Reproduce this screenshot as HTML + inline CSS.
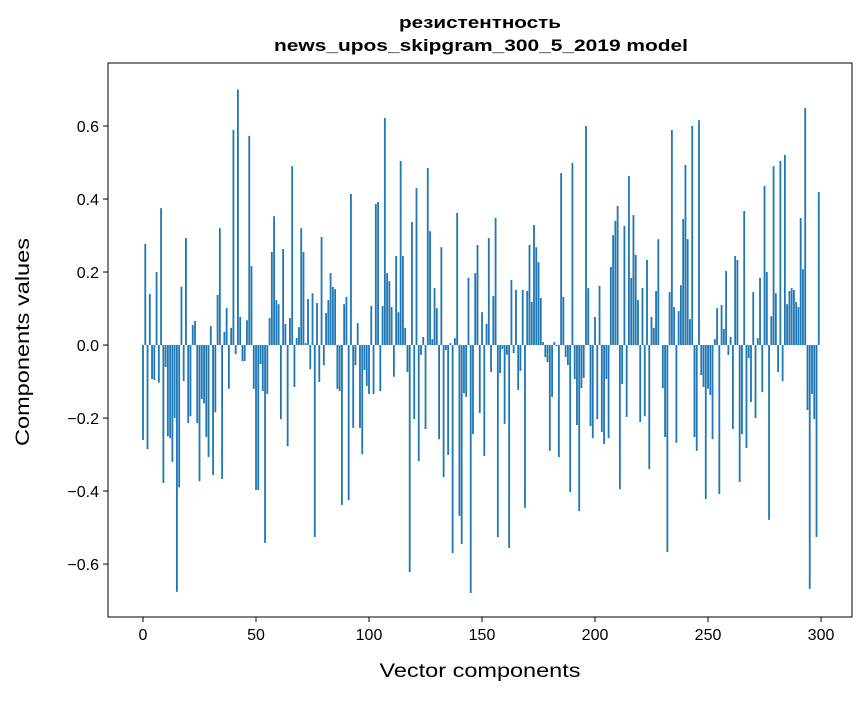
<!DOCTYPE html>
<html><head><meta charset="utf-8"><style>
body{margin:0;background:#fff;}
svg text{font-family:"Liberation Sans","DejaVu Sans",sans-serif;fill:#000;}
</style></head><body>
<svg id="chart" width="867" height="696" xmlns="http://www.w3.org/2000/svg">
<g id="bars"></g>
<rect x="108" y="63" width="744" height="554" fill="none" stroke="#000" stroke-width="1"/>
<g id="xticks"></g>
<g id="yticks"></g>
<text x="480" y="28" text-anchor="middle" font-size="17" font-weight="bold" textLength="162" lengthAdjust="spacingAndGlyphs">резистентность</text>
<text x="481" y="51" text-anchor="middle" font-size="17" font-weight="bold" textLength="414" lengthAdjust="spacingAndGlyphs">news_upos_skipgram_300_5_2019 model</text>
<text x="480" y="677" text-anchor="middle" font-size="19" textLength="201" lengthAdjust="spacingAndGlyphs">Vector components</text>
<text transform="translate(29,342) rotate(-90)" text-anchor="middle" font-size="19" textLength="208" lengthAdjust="spacingAndGlyphs">Components values</text>
</svg>
<script>
const values=[-0.26,0.277,-0.285,0.14,-0.093,-0.096,0.20,-0.103,0.375,-0.378,
-0.06,-0.25,-0.255,-0.32,-0.20,-0.676,-0.39,0.16,-0.099,0.293,
-0.214,-0.195,0.055,0.066,-0.214,-0.373,-0.148,-0.16,-0.252,-0.307,
0.052,-0.356,-0.184,0.137,0.32,-0.367,0.036,0.101,-0.12,0.047,
0.589,-0.025,0.70,0.077,-0.044,-0.044,0.068,0.573,0.216,-0.12,
-0.397,-0.397,-0.052,-0.126,-0.542,-0.134,0.074,0.255,0.353,0.123,
0.112,-0.203,0.263,0.058,-0.277,0.074,0.49,-0.115,0.019,0.049,
0.32,0.255,0.005,0.126,-0.066,0.142,-0.526,0.115,-0.101,0.296,
-0.055,0.088,0.123,0.197,0.159,0.153,-0.12,-0.126,-0.438,0.112,
0.132,-0.425,0.414,-0.227,-0.055,0.06,-0.227,-0.299,-0.068,-0.112,
-0.134,0.107,-0.134,0.386,0.392,-0.126,0.107,0.622,0.197,0.175,
0.104,-0.087,0.244,0.09,0.504,0.244,0.047,-0.074,-0.622,0.337,
-0.203,0.43,-0.318,-0.027,0.022,-0.23,0.485,0.312,0.016,0.156,
0.101,-0.258,0.268,-0.362,-0.014,-0.301,0.005,-0.57,0.019,0.362,
-0.468,-0.545,-0.132,-0.142,0.184,-0.679,-0.244,0.197,0.274,-0.186,
0.09,-0.304,0.058,0.293,-0.074,0.134,0.348,-0.526,-0.077,-0.011,
-0.216,-0.027,-0.556,0.178,-0.022,0.151,-0.123,-0.071,0.151,-0.446,
0.148,0.274,0.118,0.329,0.268,0.227,0.129,0.008,-0.033,-0.047,
-0.29,-0.142,0.008,-0.003,-0.307,0.471,0.132,-0.033,-0.055,-0.403,
0.499,-0.093,-0.219,-0.455,-0.118,-0.09,0.60,0.156,-0.222,-0.255,
0.077,-0.203,0.162,-0.238,-0.271,-0.093,-0.255,0.214,0.301,0.34,
0.381,-0.395,-0.107,0.326,-0.197,0.463,0.184,0.356,0.247,0.123,
-0.211,0.156,-0.195,0.233,-0.34,0.077,0.047,0.148,0.29,0.0,
-0.118,-0.252,-0.567,0.145,0.589,0.104,-0.268,0.093,0.164,0.345,
0.493,0.29,0.071,0.60,-0.252,-0.29,0.616,-0.082,-0.115,-0.422,
-0.12,-0.137,-0.258,0.016,0.101,-0.408,0.11,0.044,0.203,-0.027,
0.022,-0.23,0.244,0.233,-0.375,-0.244,0.367,-0.282,-0.036,-0.156,
0.145,-0.2,0.019,0.184,-0.129,0.436,0.2,-0.479,0.079,0.49,
0.142,-0.074,0.504,-0.099,0.521,0.112,0.148,0.156,0.151,0.118,
0.104,0.348,0.208,0.649,-0.178,-0.668,-0.134,-0.203,-0.526,0.419];
const xTicks=[0,50,100,150,200,250,300];
const yTicks=[-0.6,-0.4,-0.2,0.0,0.2,0.4,0.6];
const yTickLabels=["\u22120.6","\u22120.4","\u22120.2","0.0","0.2","0.4","0.6"];

const NS="http://www.w3.org/2000/svg";
const X0=108,X1=852,Y0=63,Y1=617;
const xMin=-15.49,xMax=313.7,yMin=-0.745,yMax=0.7726;
function xs(v){return X0+(v-xMin)/(xMax-xMin)*(X1-X0);}
function ys(v){return Y1-(v-yMin)/(yMax-yMin)*(Y1-Y0);}
const bars=document.getElementById('bars');
values.forEach((v,i)=>{
  const r=document.createElementNS(NS,'rect');
  const xa=xs(i-0.4),xb=xs(i+0.4);
  const y=Math.min(ys(v),ys(0)),h=Math.abs(ys(v)-ys(0));
  r.setAttribute('x',xa);r.setAttribute('width',xb-xa);
  r.setAttribute('y',y);r.setAttribute('height',h);
  r.setAttribute('fill','#1f77b4');
  
  
  bars.appendChild(r);
});
const xg=document.getElementById('xticks');
xTicks.forEach(t=>{
  const l=document.createElementNS(NS,'line');
  l.setAttribute('x1',xs(t));l.setAttribute('x2',xs(t));
  l.setAttribute('y1',Y1);l.setAttribute('y2',Y1+5);l.setAttribute('stroke','#000');
  
  
  xg.appendChild(l);
  const tx=document.createElementNS(NS,'text');
  tx.setAttribute('x',xs(t));tx.setAttribute('y',Y1+23);
  tx.setAttribute('text-anchor','middle');tx.setAttribute('font-size','16');
  tx.textContent=String(t);
  
  
  xg.appendChild(tx);
});
const yg=document.getElementById('yticks');
yTicks.forEach((t,i)=>{
  const l=document.createElementNS(NS,'line');
  l.setAttribute('x1',X0-5);l.setAttribute('x2',X0);
  l.setAttribute('y1',ys(t));l.setAttribute('y2',ys(t));l.setAttribute('stroke','#000');
  
  
  yg.appendChild(l);
  const tx=document.createElementNS(NS,'text');
  tx.setAttribute('x',X0-9);tx.setAttribute('y',ys(t)+6);
  tx.setAttribute('text-anchor','end');tx.setAttribute('font-size','16');
  tx.textContent=yTickLabels[i];
  
  
  yg.appendChild(tx);
});
</script>
</body></html>
